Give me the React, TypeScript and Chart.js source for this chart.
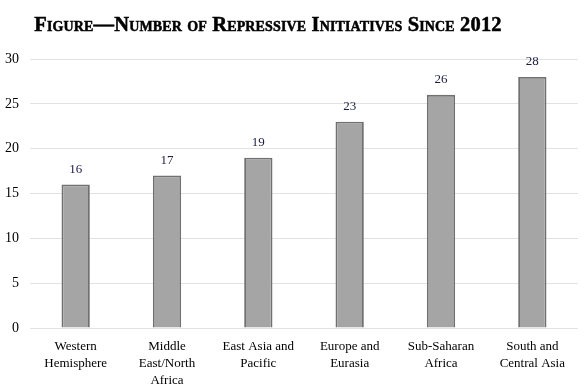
import React, { useEffect, useRef } from "react";
import { Chart, registerables } from "chart.js";

Chart.register(...registerables);

const titleText = "Figure—Number of Repressive Initiatives Since 2012";
const categories: string[][] = [
  ["Western", "Hemisphere"],
  ["Middle", "East/North", "Africa"],
  ["East Asia and", "Pacific"],
  ["Europe and", "Eurasia"],
  ["Sub-Saharan", "Africa"],
  ["South and", "Central Asia"],
];
const values = [16, 17, 19, 23, 26, 28];
const yTicks = [0, 5, 10, 15, 20, 25, 30];

const FONT = "'Liberation Serif', 'Times New Roman', serif";

const titlePlugin = {
  id: "scTitle",
  afterDraw(chart: any) {
    const ctx = chart.ctx;
    ctx.save();
    ctx.font = `bold 20.5px ${FONT}`;
    (ctx as any).fontVariantCaps = "small-caps";
    (ctx as any).letterSpacing = "0.14px";
    ctx.fillStyle = "#000";
    ctx.strokeStyle = "#000";
    ctx.lineWidth = 0.5;
    ctx.textAlign = "center";
    ctx.textBaseline = "alphabetic";
    ctx.fillText(titleText, 268, 31);
    ctx.strokeText(titleText, 268, 31);
    ctx.restore();
  },
};

const labelPlugin = {
  id: "valLabels",
  afterDatasetsDraw(chart: any) {
    const ctx = chart.ctx;
    const meta = chart.getDatasetMeta(0);
    ctx.save();
    ctx.font = `13px ${FONT}`;
    ctx.fillStyle = "#1c1c40";
    ctx.textAlign = "center";
    ctx.textBaseline = "middle";
    meta.data.forEach((bar: any, i: number) => {
      ctx.fillText(String(values[i]), bar.x, bar.y - 15);
    });
    ctx.restore();
  },
};

export default function App() {
  const ref = useRef<HTMLCanvasElement | null>(null);
  useEffect(() => {
    document.body.style.margin = "0";
    const chart = new Chart(ref.current!, {
      type: "bar",
      data: {
        labels: categories,
        datasets: [
          {
            data: values,
            backgroundColor: "#a5a5a5",
            borderColor: "#707070",
            borderWidth: 1.8,
            categoryPercentage: 1,
            barPercentage: 0.31,
          },
        ],
      },
      options: {
        animation: false,
        responsive: false,
        layout: { padding: { top: 59, right: 8, left: 0, bottom: 0 } },
        plugins: {
          legend: { display: false },
          title: { display: false },
          tooltip: { enabled: false },
        },
        scales: {
          x: {
            grid: { display: false, drawTicks: false },
            border: { display: false },
            afterFit: (axis: any) => {
              axis.height = 60;
            },
            ticks: {
              color: "#000",
              font: { family: FONT, size: 13, lineHeight: 1.3 },
              maxRotation: 0,
              autoSkip: false,
              padding: 10,
            },
          },
          y: {
            min: 0,
            max: 30,
            afterBuildTicks: (axis: any) => {
              axis.ticks = yTicks.map((v) => ({ value: v }));
            },
            afterFit: (axis: any) => {
              axis.width = 30;
            },
            grid: { color: "#e2e2e2", lineWidth: 1, drawTicks: false },
            border: { display: false },
            ticks: {
              color: "#000",
              font: { family: FONT, size: 14 },
              padding: 11,
            },
          },
        },
      },
      plugins: [titlePlugin, labelPlugin],
    });
    return () => chart.destroy();
  }, []);
  return (
    <div style={{ position: "absolute", left: 0, top: 0, width: 586, height: 388 }}>
      <canvas ref={ref} width={586} height={388} style={{ width: 586, height: 388 }} />
    </div>
  );
}
